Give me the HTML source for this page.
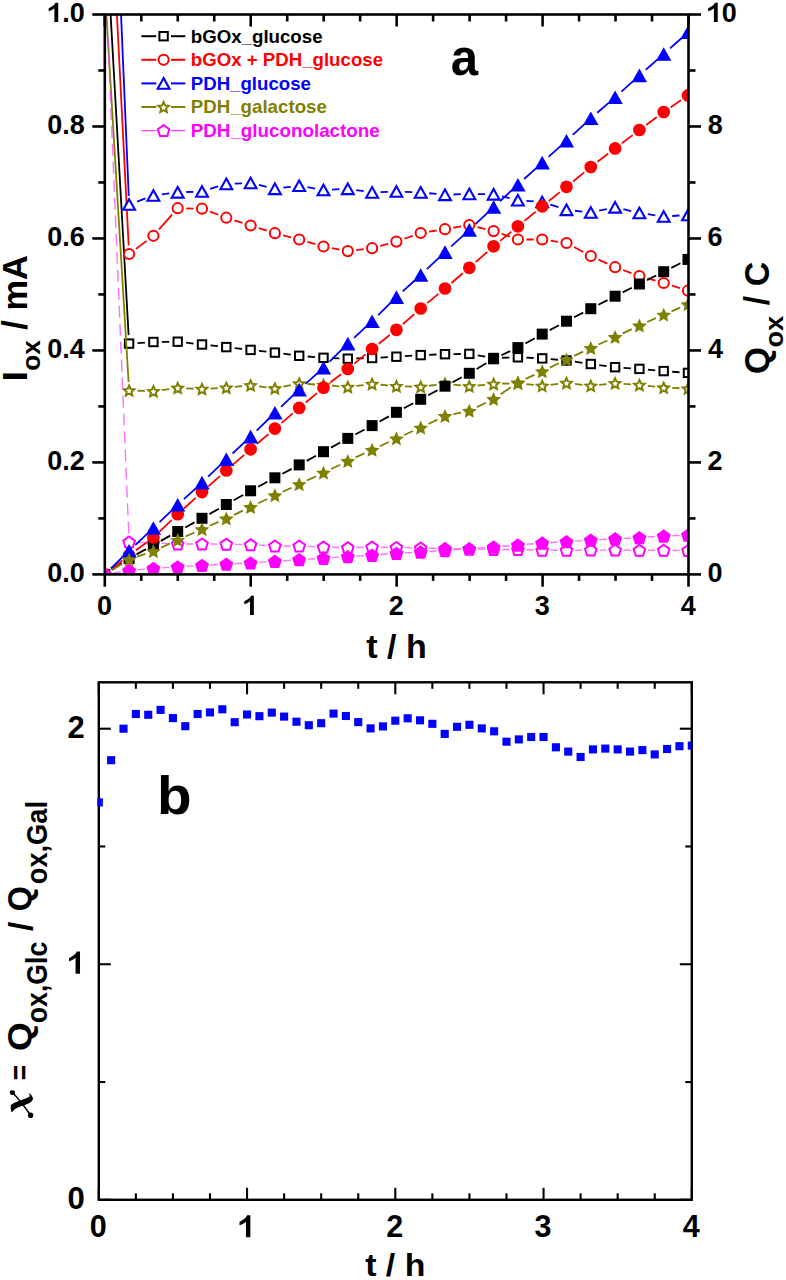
<!DOCTYPE html>
<html><head><meta charset="utf-8"><style>
html,body{margin:0;padding:0;background:#fff;width:786px;height:1280px;overflow:hidden}
svg{display:block}
text{font-family:"Liberation Sans",sans-serif;font-weight:bold}
</style></head><body>
<svg width="786" height="1280" viewBox="0 0 786 1280">
<rect width="786" height="1280" fill="#fff"/>
<defs><clipPath id="ca"><rect x="104.8" y="14.5" width="583.7" height="559.9"/></clipPath><clipPath id="cb"><rect x="97.4" y="682.3" width="594.4" height="517.5"/></clipPath></defs>
<g clip-path="url(#ca)">
<path d="M104.8 -89L128.62 335.11M137.58 343.04L144.92 342.56M161.9 341.9L169.2 341.8M186.14 342.67L193.56 343.53M210.45 345.4L217.85 346.2M234.74 348.07L242.16 348.93M259.05 350.84L266.45 351.66M283.33 353.71L290.77 354.69M307.67 356.5L315.03 357.1M331.99 358.11L339.31 358.39M356.3 358.46L363.6 358.24M380.59 357.55L387.91 357.15M404.88 356.14L412.22 355.66M429.19 354.79L436.51 354.51M453.5 354.1L460.8 354M477.68 355.31L485.22 356.59M502.1 357.76L509.4 357.54M526.39 357.68L533.71 358.02M550.67 359.13L558.03 359.77M574.91 361.71L582.39 362.79M599.23 365.11L606.67 366.09M623.58 367.79L630.92 368.31M647.87 369.67L655.23 370.33M672.18 371.73L679.52 372.27" fill="none" stroke="#000000" stroke-width="1.8"/>
<rect x="124.9" y="339.4" width="8.4" height="8.4" fill="#fff" stroke="#000000" stroke-width="2.0"/>
<rect x="149.2" y="337.8" width="8.4" height="8.4" fill="#fff" stroke="#000000" stroke-width="2.0"/>
<rect x="173.5" y="337.5" width="8.4" height="8.4" fill="#fff" stroke="#000000" stroke-width="2.0"/>
<rect x="197.8" y="340.3" width="8.4" height="8.4" fill="#fff" stroke="#000000" stroke-width="2.0"/>
<rect x="222.1" y="342.9" width="8.4" height="8.4" fill="#fff" stroke="#000000" stroke-width="2.0"/>
<rect x="246.4" y="345.7" width="8.4" height="8.4" fill="#fff" stroke="#000000" stroke-width="2.0"/>
<rect x="270.7" y="348.4" width="8.4" height="8.4" fill="#fff" stroke="#000000" stroke-width="2.0"/>
<rect x="295" y="351.6" width="8.4" height="8.4" fill="#fff" stroke="#000000" stroke-width="2.0"/>
<rect x="319.3" y="353.6" width="8.4" height="8.4" fill="#fff" stroke="#000000" stroke-width="2.0"/>
<rect x="343.6" y="354.5" width="8.4" height="8.4" fill="#fff" stroke="#000000" stroke-width="2.0"/>
<rect x="367.9" y="353.8" width="8.4" height="8.4" fill="#fff" stroke="#000000" stroke-width="2.0"/>
<rect x="392.2" y="352.5" width="8.4" height="8.4" fill="#fff" stroke="#000000" stroke-width="2.0"/>
<rect x="416.5" y="350.9" width="8.4" height="8.4" fill="#fff" stroke="#000000" stroke-width="2.0"/>
<rect x="440.8" y="350" width="8.4" height="8.4" fill="#fff" stroke="#000000" stroke-width="2.0"/>
<rect x="465.1" y="349.7" width="8.4" height="8.4" fill="#fff" stroke="#000000" stroke-width="2.0"/>
<rect x="489.4" y="353.8" width="8.4" height="8.4" fill="#fff" stroke="#000000" stroke-width="2.0"/>
<rect x="513.7" y="353.1" width="8.4" height="8.4" fill="#fff" stroke="#000000" stroke-width="2.0"/>
<rect x="538" y="354.2" width="8.4" height="8.4" fill="#fff" stroke="#000000" stroke-width="2.0"/>
<rect x="562.3" y="356.3" width="8.4" height="8.4" fill="#fff" stroke="#000000" stroke-width="2.0"/>
<rect x="586.6" y="359.8" width="8.4" height="8.4" fill="#fff" stroke="#000000" stroke-width="2.0"/>
<rect x="610.9" y="363" width="8.4" height="8.4" fill="#fff" stroke="#000000" stroke-width="2.0"/>
<rect x="635.2" y="364.7" width="8.4" height="8.4" fill="#fff" stroke="#000000" stroke-width="2.0"/>
<rect x="659.5" y="366.9" width="8.4" height="8.4" fill="#fff" stroke="#000000" stroke-width="2.0"/>
<rect x="683.8" y="368.7" width="8.4" height="8.4" fill="#fff" stroke="#000000" stroke-width="2.0"/>
<path d="M104.8 -224L128.67 245.51M135.9 248.9L146.6 240.9M159.02 229.42L172.08 214.58M186.2 208.37L193.5 208.53M209.97 211.65L218.33 214.75M234.39 220.3L242.51 222.9M258.7 228.07L266.8 230.63M283.13 235.33L290.97 237.37M307.37 241.85L315.33 244.15M331.85 248.08L339.45 249.52M356.24 250.09L363.66 249.21M380.3 245.97L388.2 243.83M404.41 238.76L412.69 235.84M429.1 231.69L436.6 230.51M453.38 227.75L460.92 226.45M477.54 227.07L485.36 229.03M501.63 233.88L509.87 236.72M526.4 239.5L533.7 239.5M550.61 240.71L558.09 241.79M573.99 247.01L583.31 251.99M598.52 259.56L607.38 263.64M623.09 270.09L631.41 273.11M647.57 278.35L655.53 280.65M671.8 285.57L679.9 288.13" fill="none" stroke="#ff0000" stroke-width="1.8"/>
<circle cx="129.1" cy="254" r="5.1" fill="#fff" stroke="#ff0000" stroke-width="2.0"/>
<circle cx="153.4" cy="235.8" r="5.1" fill="#fff" stroke="#ff0000" stroke-width="2.0"/>
<circle cx="177.7" cy="208.2" r="5.1" fill="#fff" stroke="#ff0000" stroke-width="2.0"/>
<circle cx="202" cy="208.7" r="5.1" fill="#fff" stroke="#ff0000" stroke-width="2.0"/>
<circle cx="226.3" cy="217.7" r="5.1" fill="#fff" stroke="#ff0000" stroke-width="2.0"/>
<circle cx="250.6" cy="225.5" r="5.1" fill="#fff" stroke="#ff0000" stroke-width="2.0"/>
<circle cx="274.9" cy="233.2" r="5.1" fill="#fff" stroke="#ff0000" stroke-width="2.0"/>
<circle cx="299.2" cy="239.5" r="5.1" fill="#fff" stroke="#ff0000" stroke-width="2.0"/>
<circle cx="323.5" cy="246.5" r="5.1" fill="#fff" stroke="#ff0000" stroke-width="2.0"/>
<circle cx="347.8" cy="251.1" r="5.1" fill="#fff" stroke="#ff0000" stroke-width="2.0"/>
<circle cx="372.1" cy="248.2" r="5.1" fill="#fff" stroke="#ff0000" stroke-width="2.0"/>
<circle cx="396.4" cy="241.6" r="5.1" fill="#fff" stroke="#ff0000" stroke-width="2.0"/>
<circle cx="420.7" cy="233" r="5.1" fill="#fff" stroke="#ff0000" stroke-width="2.0"/>
<circle cx="445" cy="229.2" r="5.1" fill="#fff" stroke="#ff0000" stroke-width="2.0"/>
<circle cx="469.3" cy="225" r="5.1" fill="#fff" stroke="#ff0000" stroke-width="2.0"/>
<circle cx="493.6" cy="231.1" r="5.1" fill="#fff" stroke="#ff0000" stroke-width="2.0"/>
<circle cx="517.9" cy="239.5" r="5.1" fill="#fff" stroke="#ff0000" stroke-width="2.0"/>
<circle cx="542.2" cy="239.5" r="5.1" fill="#fff" stroke="#ff0000" stroke-width="2.0"/>
<circle cx="566.5" cy="243" r="5.1" fill="#fff" stroke="#ff0000" stroke-width="2.0"/>
<circle cx="590.8" cy="256" r="5.1" fill="#fff" stroke="#ff0000" stroke-width="2.0"/>
<circle cx="615.1" cy="267.2" r="5.1" fill="#fff" stroke="#ff0000" stroke-width="2.0"/>
<circle cx="639.4" cy="276" r="5.1" fill="#fff" stroke="#ff0000" stroke-width="2.0"/>
<circle cx="663.7" cy="283" r="5.1" fill="#fff" stroke="#ff0000" stroke-width="2.0"/>
<circle cx="688" cy="290.7" r="5.1" fill="#fff" stroke="#ff0000" stroke-width="2.0"/>
<path d="M104.8 -368L128.74 196.01M137.07 201.55L145.43 198.45M161.83 194.39L169.27 193.41M186.2 192.02L193.5 191.78M210.11 188.96L218.19 186.44M234.79 183.59L242.11 183.31M258.87 184.97L266.63 186.83M283.33 187.72L290.77 186.78M307.57 187.18L315.13 188.52M331.99 189.58L339.31 189.22M356.21 190.05L363.69 191.15M380.59 192.09L387.91 191.81M404.89 191.81L412.21 192.09M429.16 193.24L436.54 193.96M453.49 194.49L460.81 194.21M477.8 194.04L485.1 194.16M501.86 196.31L509.64 198.19M526.38 200.83L533.72 201.37M550.29 204.6L558.41 207.2M574.95 210.74L582.35 211.56M599.11 210.72L606.79 209.08M623.38 209.24L631.12 211.06M647.81 214.21L655.29 215.29M672.18 215.98L679.52 215.52" fill="none" stroke="#0000ff" stroke-width="1.8"/>
<polygon points="129.1,199.21 135.01,209.79 123.19,209.79" fill="#fff" stroke="#0000ff" stroke-width="2.1" stroke-linejoin="miter"/>
<polygon points="153.4,190.21 159.31,200.79 147.49,200.79" fill="#fff" stroke="#0000ff" stroke-width="2.1" stroke-linejoin="miter"/>
<polygon points="177.7,187.01 183.61,197.59 171.79,197.59" fill="#fff" stroke="#0000ff" stroke-width="2.1" stroke-linejoin="miter"/>
<polygon points="202,186.21 207.91,196.79 196.09,196.79" fill="#fff" stroke="#0000ff" stroke-width="2.1" stroke-linejoin="miter"/>
<polygon points="226.3,178.61 232.21,189.19 220.39,189.19" fill="#fff" stroke="#0000ff" stroke-width="2.1" stroke-linejoin="miter"/>
<polygon points="250.6,177.71 256.51,188.29 244.69,188.29" fill="#fff" stroke="#0000ff" stroke-width="2.1" stroke-linejoin="miter"/>
<polygon points="274.9,183.51 280.81,194.09 268.99,194.09" fill="#fff" stroke="#0000ff" stroke-width="2.1" stroke-linejoin="miter"/>
<polygon points="299.2,180.41 305.11,190.99 293.29,190.99" fill="#fff" stroke="#0000ff" stroke-width="2.1" stroke-linejoin="miter"/>
<polygon points="323.5,184.71 329.41,195.29 317.59,195.29" fill="#fff" stroke="#0000ff" stroke-width="2.1" stroke-linejoin="miter"/>
<polygon points="347.8,183.51 353.71,194.09 341.89,194.09" fill="#fff" stroke="#0000ff" stroke-width="2.1" stroke-linejoin="miter"/>
<polygon points="372.1,187.11 378.01,197.69 366.19,197.69" fill="#fff" stroke="#0000ff" stroke-width="2.1" stroke-linejoin="miter"/>
<polygon points="396.4,186.21 402.31,196.79 390.49,196.79" fill="#fff" stroke="#0000ff" stroke-width="2.1" stroke-linejoin="miter"/>
<polygon points="420.7,187.11 426.61,197.69 414.79,197.69" fill="#fff" stroke="#0000ff" stroke-width="2.1" stroke-linejoin="miter"/>
<polygon points="445,189.51 450.91,200.09 439.09,200.09" fill="#fff" stroke="#0000ff" stroke-width="2.1" stroke-linejoin="miter"/>
<polygon points="469.3,188.61 475.21,199.19 463.39,199.19" fill="#fff" stroke="#0000ff" stroke-width="2.1" stroke-linejoin="miter"/>
<polygon points="493.6,189.01 499.51,199.59 487.69,199.59" fill="#fff" stroke="#0000ff" stroke-width="2.1" stroke-linejoin="miter"/>
<polygon points="517.9,194.91 523.81,205.49 511.99,205.49" fill="#fff" stroke="#0000ff" stroke-width="2.1" stroke-linejoin="miter"/>
<polygon points="542.2,196.71 548.11,207.29 536.29,207.29" fill="#fff" stroke="#0000ff" stroke-width="2.1" stroke-linejoin="miter"/>
<polygon points="566.5,204.51 572.41,215.09 560.59,215.09" fill="#fff" stroke="#0000ff" stroke-width="2.1" stroke-linejoin="miter"/>
<polygon points="590.8,207.21 596.71,217.79 584.89,217.79" fill="#fff" stroke="#0000ff" stroke-width="2.1" stroke-linejoin="miter"/>
<polygon points="615.1,202.01 621.01,212.59 609.19,212.59" fill="#fff" stroke="#0000ff" stroke-width="2.1" stroke-linejoin="miter"/>
<polygon points="639.4,207.71 645.31,218.29 633.49,218.29" fill="#fff" stroke="#0000ff" stroke-width="2.1" stroke-linejoin="miter"/>
<polygon points="663.7,211.21 669.61,221.79 657.79,221.79" fill="#fff" stroke="#0000ff" stroke-width="2.1" stroke-linejoin="miter"/>
<polygon points="688,209.71 693.91,220.29 682.09,220.29" fill="#fff" stroke="#0000ff" stroke-width="2.1" stroke-linejoin="miter"/>
<path d="M104.8 -11.7L128.59 382.02M137.6 390.74L144.9 390.96M161.82 390.06L169.28 389.04M186.19 388.28L193.51 388.62M210.49 388.55L217.81 388.15M234.76 386.86L242.14 386.14M259.03 386.38L266.47 387.32M283.23 386.72L290.87 385.18M307.68 384.02L315.02 384.48M331.97 385.7L339.33 386.3M356.24 385.96L363.66 385.04M380.57 384.77L387.93 385.43M404.9 386.41L412.2 386.59M429.14 385.76L436.56 384.84M453.46 384.67L460.84 385.43M477.76 385.5L485.14 384.8M502.1 383.72L509.4 383.48M526.35 384.1L533.75 384.9M550.64 384.83L558.06 383.97M574.94 383.97L582.36 384.83M599.25 384.9L606.65 384.1M623.58 383.83L630.92 384.37M647.85 385.9L655.25 386.7M672.19 387.95L679.51 388.25" fill="none" stroke="#808000" stroke-width="1.8"/>
<polygon points="129.1,385.53 130.62,388.93 134.33,389.33 131.56,391.82 132.33,395.47 129.1,393.61 125.87,395.47 126.64,391.82 123.87,389.33 127.58,388.93" fill="#fff" stroke="#808000" stroke-width="2.0" stroke-linejoin="miter"/>
<polygon points="153.4,386.23 154.92,389.63 158.63,390.03 155.86,392.52 156.63,396.17 153.4,394.31 150.17,396.17 150.94,392.52 148.17,390.03 151.88,389.63" fill="#fff" stroke="#808000" stroke-width="2.0" stroke-linejoin="miter"/>
<polygon points="177.7,382.93 179.22,386.33 182.93,386.73 180.16,389.22 180.93,392.87 177.7,391.01 174.47,392.87 175.24,389.22 172.47,386.73 176.18,386.33" fill="#fff" stroke="#808000" stroke-width="2.0" stroke-linejoin="miter"/>
<polygon points="202,384.03 203.52,387.43 207.23,387.83 204.46,390.32 205.23,393.97 202,392.11 198.77,393.97 199.54,390.32 196.77,387.83 200.48,387.43" fill="#fff" stroke="#808000" stroke-width="2.0" stroke-linejoin="miter"/>
<polygon points="226.3,382.73 227.82,386.13 231.53,386.53 228.76,389.02 229.53,392.67 226.3,390.81 223.07,392.67 223.84,389.02 221.07,386.53 224.78,386.13" fill="#fff" stroke="#808000" stroke-width="2.0" stroke-linejoin="miter"/>
<polygon points="250.6,380.33 252.12,383.73 255.83,384.13 253.06,386.62 253.83,390.27 250.6,388.41 247.37,390.27 248.14,386.62 245.37,384.13 249.08,383.73" fill="#fff" stroke="#808000" stroke-width="2.0" stroke-linejoin="miter"/>
<polygon points="274.9,383.43 276.42,386.83 280.13,387.23 277.36,389.72 278.13,393.37 274.9,391.51 271.67,393.37 272.44,389.72 269.67,387.23 273.38,386.83" fill="#fff" stroke="#808000" stroke-width="2.0" stroke-linejoin="miter"/>
<polygon points="299.2,378.53 300.72,381.93 304.43,382.33 301.66,384.82 302.43,388.47 299.2,386.61 295.97,388.47 296.74,384.82 293.97,382.33 297.68,381.93" fill="#fff" stroke="#808000" stroke-width="2.0" stroke-linejoin="miter"/>
<polygon points="323.5,380.03 325.02,383.43 328.73,383.83 325.96,386.32 326.73,389.97 323.5,388.11 320.27,389.97 321.04,386.32 318.27,383.83 321.98,383.43" fill="#fff" stroke="#808000" stroke-width="2.0" stroke-linejoin="miter"/>
<polygon points="347.8,382.03 349.32,385.43 353.03,385.83 350.26,388.32 351.03,391.97 347.8,390.11 344.57,391.97 345.34,388.32 342.57,385.83 346.28,385.43" fill="#fff" stroke="#808000" stroke-width="2.0" stroke-linejoin="miter"/>
<polygon points="372.1,379.03 373.62,382.43 377.33,382.83 374.56,385.32 375.33,388.97 372.1,387.11 368.87,388.97 369.64,385.32 366.87,382.83 370.58,382.43" fill="#fff" stroke="#808000" stroke-width="2.0" stroke-linejoin="miter"/>
<polygon points="396.4,381.23 397.92,384.63 401.63,385.03 398.86,387.52 399.63,391.17 396.4,389.31 393.17,391.17 393.94,387.52 391.17,385.03 394.88,384.63" fill="#fff" stroke="#808000" stroke-width="2.0" stroke-linejoin="miter"/>
<polygon points="420.7,381.83 422.22,385.23 425.93,385.63 423.16,388.12 423.93,391.77 420.7,389.91 417.47,391.77 418.24,388.12 415.47,385.63 419.18,385.23" fill="#fff" stroke="#808000" stroke-width="2.0" stroke-linejoin="miter"/>
<polygon points="445,378.83 446.52,382.23 450.23,382.63 447.46,385.12 448.23,388.77 445,386.91 441.77,388.77 442.54,385.12 439.77,382.63 443.48,382.23" fill="#fff" stroke="#808000" stroke-width="2.0" stroke-linejoin="miter"/>
<polygon points="469.3,381.33 470.82,384.73 474.53,385.13 471.76,387.62 472.53,391.27 469.3,389.41 466.07,391.27 466.84,387.62 464.07,385.13 467.78,384.73" fill="#fff" stroke="#808000" stroke-width="2.0" stroke-linejoin="miter"/>
<polygon points="493.6,379.03 495.12,382.43 498.83,382.83 496.06,385.32 496.83,388.97 493.6,387.11 490.37,388.97 491.14,385.32 488.37,382.83 492.08,382.43" fill="#fff" stroke="#808000" stroke-width="2.0" stroke-linejoin="miter"/>
<polygon points="517.9,378.23 519.42,381.63 523.13,382.03 520.36,384.52 521.13,388.17 517.9,386.31 514.67,388.17 515.44,384.52 512.67,382.03 516.38,381.63" fill="#fff" stroke="#808000" stroke-width="2.0" stroke-linejoin="miter"/>
<polygon points="542.2,380.83 543.72,384.23 547.43,384.63 544.66,387.12 545.43,390.77 542.2,388.91 538.97,390.77 539.74,387.12 536.97,384.63 540.68,384.23" fill="#fff" stroke="#808000" stroke-width="2.0" stroke-linejoin="miter"/>
<polygon points="566.5,378.03 568.02,381.43 571.73,381.83 568.96,384.32 569.73,387.97 566.5,386.11 563.27,387.97 564.04,384.32 561.27,381.83 564.98,381.43" fill="#fff" stroke="#808000" stroke-width="2.0" stroke-linejoin="miter"/>
<polygon points="590.8,380.83 592.32,384.23 596.03,384.63 593.26,387.12 594.03,390.77 590.8,388.91 587.57,390.77 588.34,387.12 585.57,384.63 589.28,384.23" fill="#fff" stroke="#808000" stroke-width="2.0" stroke-linejoin="miter"/>
<polygon points="615.1,378.23 616.62,381.63 620.33,382.03 617.56,384.52 618.33,388.17 615.1,386.31 611.87,388.17 612.64,384.52 609.87,382.03 613.58,381.63" fill="#fff" stroke="#808000" stroke-width="2.0" stroke-linejoin="miter"/>
<polygon points="639.4,380.03 640.92,383.43 644.63,383.83 641.86,386.32 642.63,389.97 639.4,388.11 636.17,389.97 636.94,386.32 634.17,383.83 637.88,383.43" fill="#fff" stroke="#808000" stroke-width="2.0" stroke-linejoin="miter"/>
<polygon points="663.7,382.63 665.22,386.03 668.93,386.43 666.16,388.92 666.93,392.57 663.7,390.71 660.47,392.57 661.24,388.92 658.47,386.43 662.18,386.03" fill="#fff" stroke="#808000" stroke-width="2.0" stroke-linejoin="miter"/>
<polygon points="688,383.63 689.52,387.03 693.23,387.43 690.46,389.92 691.23,393.57 688,391.71 684.77,393.57 685.54,389.92 682.77,387.43 686.48,387.03" fill="#fff" stroke="#808000" stroke-width="2.0" stroke-linejoin="miter"/>
<path d="M104.8 -36L128.74 533.51M137.59 542.35L144.91 542.65M161.89 543.35L169.21 543.65M186.2 544L193.5 544M210.5 544.07L217.8 544.13M234.8 544.37L242.1 544.53M259.09 545.15L266.41 545.55M283.4 546L290.7 546M307.69 546.35L315.01 546.65M332 547.24L339.3 547.46M356.3 547.46L363.6 547.24M380.6 547.17L387.9 547.33M404.9 547.67L412.2 547.83M429.2 548.21L436.5 548.39M453.5 548.74L460.8 548.86M477.8 549.14L485.1 549.26M502.1 549.47L509.4 549.53M526.4 549.81L533.7 549.99M550.7 550.23L558 550.27M575 550.23L582.3 550.17M599.3 550.1L606.6 550.1M623.6 550.17L630.9 550.23M647.9 550.3L655.2 550.3M672.2 550.37L679.5 550.43" fill="none" stroke="#ff40ff" stroke-width="1.4" stroke-dasharray="12 6" stroke-opacity="0.75"/>
<polygon points="129.1,536.48 134.9,540.7 132.69,547.52 125.51,547.52 123.3,540.7" fill="#fff" stroke="#ff00ff" stroke-width="2.0" stroke-linejoin="miter"/>
<polygon points="153.4,537.48 159.2,541.7 156.99,548.52 149.81,548.52 147.6,541.7" fill="#fff" stroke="#ff00ff" stroke-width="2.0" stroke-linejoin="miter"/>
<polygon points="177.7,538.48 183.5,542.7 181.29,549.52 174.11,549.52 171.9,542.7" fill="#fff" stroke="#ff00ff" stroke-width="2.0" stroke-linejoin="miter"/>
<polygon points="202,538.48 207.8,542.7 205.59,549.52 198.41,549.52 196.2,542.7" fill="#fff" stroke="#ff00ff" stroke-width="2.0" stroke-linejoin="miter"/>
<polygon points="226.3,538.68 232.1,542.9 229.89,549.72 222.71,549.72 220.5,542.9" fill="#fff" stroke="#ff00ff" stroke-width="2.0" stroke-linejoin="miter"/>
<polygon points="250.6,539.18 256.4,543.4 254.19,550.22 247.01,550.22 244.8,543.4" fill="#fff" stroke="#ff00ff" stroke-width="2.0" stroke-linejoin="miter"/>
<polygon points="274.9,540.48 280.7,544.7 278.49,551.52 271.31,551.52 269.1,544.7" fill="#fff" stroke="#ff00ff" stroke-width="2.0" stroke-linejoin="miter"/>
<polygon points="299.2,540.48 305,544.7 302.79,551.52 295.61,551.52 293.4,544.7" fill="#fff" stroke="#ff00ff" stroke-width="2.0" stroke-linejoin="miter"/>
<polygon points="323.5,541.48 329.3,545.7 327.09,552.52 319.91,552.52 317.7,545.7" fill="#fff" stroke="#ff00ff" stroke-width="2.0" stroke-linejoin="miter"/>
<polygon points="347.8,542.18 353.6,546.4 351.39,553.22 344.21,553.22 342,546.4" fill="#fff" stroke="#ff00ff" stroke-width="2.0" stroke-linejoin="miter"/>
<polygon points="372.1,541.48 377.9,545.7 375.69,552.52 368.51,552.52 366.3,545.7" fill="#fff" stroke="#ff00ff" stroke-width="2.0" stroke-linejoin="miter"/>
<polygon points="396.4,541.98 402.2,546.2 399.99,553.02 392.81,553.02 390.6,546.2" fill="#fff" stroke="#ff00ff" stroke-width="2.0" stroke-linejoin="miter"/>
<polygon points="420.7,542.48 426.5,546.7 424.29,553.52 417.11,553.52 414.9,546.7" fill="#fff" stroke="#ff00ff" stroke-width="2.0" stroke-linejoin="miter"/>
<polygon points="445,543.08 450.8,547.3 448.59,554.12 441.41,554.12 439.2,547.3" fill="#fff" stroke="#ff00ff" stroke-width="2.0" stroke-linejoin="miter"/>
<polygon points="469.3,543.48 475.1,547.7 472.89,554.52 465.71,554.52 463.5,547.7" fill="#fff" stroke="#ff00ff" stroke-width="2.0" stroke-linejoin="miter"/>
<polygon points="493.6,543.88 499.4,548.1 497.19,554.92 490.01,554.92 487.8,548.1" fill="#fff" stroke="#ff00ff" stroke-width="2.0" stroke-linejoin="miter"/>
<polygon points="517.9,544.08 523.7,548.3 521.49,555.12 514.31,555.12 512.1,548.3" fill="#fff" stroke="#ff00ff" stroke-width="2.0" stroke-linejoin="miter"/>
<polygon points="542.2,544.68 548,548.9 545.79,555.72 538.61,555.72 536.4,548.9" fill="#fff" stroke="#ff00ff" stroke-width="2.0" stroke-linejoin="miter"/>
<polygon points="566.5,544.78 572.3,549 570.09,555.82 562.91,555.82 560.7,549" fill="#fff" stroke="#ff00ff" stroke-width="2.0" stroke-linejoin="miter"/>
<polygon points="590.8,544.58 596.6,548.8 594.39,555.62 587.21,555.62 585,548.8" fill="#fff" stroke="#ff00ff" stroke-width="2.0" stroke-linejoin="miter"/>
<polygon points="615.1,544.58 620.9,548.8 618.69,555.62 611.51,555.62 609.3,548.8" fill="#fff" stroke="#ff00ff" stroke-width="2.0" stroke-linejoin="miter"/>
<polygon points="639.4,544.78 645.2,549 642.99,555.82 635.81,555.82 633.6,549" fill="#fff" stroke="#ff00ff" stroke-width="2.0" stroke-linejoin="miter"/>
<polygon points="663.7,544.78 669.5,549 667.29,555.82 660.11,555.82 657.9,549" fill="#fff" stroke="#ff00ff" stroke-width="2.0" stroke-linejoin="miter"/>
<polygon points="688,544.98 693.8,549.2 691.59,556.02 684.41,556.02 682.2,549.2" fill="#fff" stroke="#ff00ff" stroke-width="2.0" stroke-linejoin="miter"/>
<path d="M111.91 569.75L121.99 563.15M136.53 554.37L145.97 549.13M160.83 540.87L170.27 535.63M185.17 527.44L194.53 522.36M209.39 514.1L218.91 508.7M233.7 500.33L243.2 494.97M258.09 486.79L267.41 481.81M282.41 473.81L291.69 468.89M306.67 460.84L316.03 455.76M330.96 447.62L340.34 442.48M355.32 434.44L364.58 429.56M379.56 421.52L388.94 416.38M403.89 408.29L413.21 403.31M428.18 395.27L437.52 390.23M452.51 382.21L461.79 377.29M476.6 368.94L486.3 363.16M501.32 355.24L510.18 351.16M525.33 343.47L534.77 338.23M549.71 330.11L558.99 325.19M574.06 317.31L583.24 312.59M598.36 304.81L607.54 300.09M622.7 292.39L631.8 287.81M646.98 280.16L656.12 275.54M671.28 267.86L680.42 263.24" fill="none" stroke="#000000" stroke-width="1.8"/>
<rect x="99.3" y="568.9" width="11" height="11" fill="#000000"/>
<rect x="123.6" y="553" width="11" height="11" fill="#000000"/>
<rect x="147.9" y="539.5" width="11" height="11" fill="#000000"/>
<rect x="172.2" y="526" width="11" height="11" fill="#000000"/>
<rect x="196.5" y="512.8" width="11" height="11" fill="#000000"/>
<rect x="220.8" y="499" width="11" height="11" fill="#000000"/>
<rect x="245.1" y="485.3" width="11" height="11" fill="#000000"/>
<rect x="269.4" y="472.3" width="11" height="11" fill="#000000"/>
<rect x="293.7" y="459.4" width="11" height="11" fill="#000000"/>
<rect x="318" y="446.2" width="11" height="11" fill="#000000"/>
<rect x="342.3" y="432.9" width="11" height="11" fill="#000000"/>
<rect x="366.6" y="420.1" width="11" height="11" fill="#000000"/>
<rect x="390.9" y="406.8" width="11" height="11" fill="#000000"/>
<rect x="415.2" y="393.8" width="11" height="11" fill="#000000"/>
<rect x="439.5" y="380.7" width="11" height="11" fill="#000000"/>
<rect x="463.8" y="367.8" width="11" height="11" fill="#000000"/>
<rect x="488.1" y="353.3" width="11" height="11" fill="#000000"/>
<rect x="512.4" y="342.1" width="11" height="11" fill="#000000"/>
<rect x="536.7" y="328.6" width="11" height="11" fill="#000000"/>
<rect x="561" y="315.7" width="11" height="11" fill="#000000"/>
<rect x="585.3" y="303.2" width="11" height="11" fill="#000000"/>
<rect x="609.6" y="290.7" width="11" height="11" fill="#000000"/>
<rect x="633.9" y="278.5" width="11" height="11" fill="#000000"/>
<rect x="658.2" y="266.2" width="11" height="11" fill="#000000"/>
<rect x="682.5" y="253.9" width="11" height="11" fill="#000000"/>
<path d="M111.48 569.15L122.42 560.55M135.94 550.26L146.56 542.44M159.55 531.53L171.55 520.07M183.99 508.48L195.71 497.82M208.35 486.45L219.95 476.15M232.71 464.91L244.19 454.89M257.07 443.79L268.43 434.11M281.37 423.09L292.73 413.41M305.74 402.47L316.96 393.13M330.24 382.52L341.06 374.18M354.36 363.6L365.54 354.4M378.77 343.73L389.73 335.07M402.79 324.2L414.31 314.1M427.26 303.1L438.44 293.9M451.47 282.99L462.83 273.31M475.67 262.17L487.23 251.93M500.16 240.9L511.34 231.7M524.46 220.9L535.64 211.7M548.83 200.98L559.87 192.12M573.09 181.43L584.21 172.37M597.55 161.83L608.35 153.57M621.88 143.27L632.62 135.13M646.23 124.94L656.87 117.06M670.72 107.21L680.98 100.19" fill="none" stroke="#ff0000" stroke-width="1.8"/>
<circle cx="104.8" cy="574.4" r="6.35" fill="#ff0000"/>
<circle cx="129.1" cy="555.3" r="6.35" fill="#ff0000"/>
<circle cx="153.4" cy="537.4" r="6.35" fill="#ff0000"/>
<circle cx="177.7" cy="514.2" r="6.35" fill="#ff0000"/>
<circle cx="202" cy="492.1" r="6.35" fill="#ff0000"/>
<circle cx="226.3" cy="470.5" r="6.35" fill="#ff0000"/>
<circle cx="250.6" cy="449.3" r="6.35" fill="#ff0000"/>
<circle cx="274.9" cy="428.6" r="6.35" fill="#ff0000"/>
<circle cx="299.2" cy="407.9" r="6.35" fill="#ff0000"/>
<circle cx="323.5" cy="387.7" r="6.35" fill="#ff0000"/>
<circle cx="347.8" cy="369" r="6.35" fill="#ff0000"/>
<circle cx="372.1" cy="349" r="6.35" fill="#ff0000"/>
<circle cx="396.4" cy="329.8" r="6.35" fill="#ff0000"/>
<circle cx="420.7" cy="308.5" r="6.35" fill="#ff0000"/>
<circle cx="445" cy="288.5" r="6.35" fill="#ff0000"/>
<circle cx="469.3" cy="267.8" r="6.35" fill="#ff0000"/>
<circle cx="493.6" cy="246.3" r="6.35" fill="#ff0000"/>
<circle cx="517.9" cy="226.3" r="6.35" fill="#ff0000"/>
<circle cx="542.2" cy="206.3" r="6.35" fill="#ff0000"/>
<circle cx="566.5" cy="186.8" r="6.35" fill="#ff0000"/>
<circle cx="590.8" cy="167" r="6.35" fill="#ff0000"/>
<circle cx="615.1" cy="148.4" r="6.35" fill="#ff0000"/>
<circle cx="639.4" cy="130" r="6.35" fill="#ff0000"/>
<circle cx="663.7" cy="112" r="6.35" fill="#ff0000"/>
<circle cx="688" cy="95.4" r="6.35" fill="#ff0000"/>
<path d="M110.9 568.48L123 556.72M135.3 544.98L147.2 533.82M159.55 522.13L171.55 510.67M183.98 499.07L195.72 488.33M208.14 476.72L220.16 465.18M232.51 453.5L244.39 442.4M256.67 430.65L268.83 418.75M281.05 406.93L293.05 395.47M305.51 383.91L317.19 373.39M329.54 361.71L341.76 349.59M354.05 337.84L365.85 326.96M378.14 315.21L390.36 303.09M402.69 291.38L414.41 280.72M426.89 269.17L438.81 257.93M451.28 246.37L463.02 235.63M475.49 224.07L487.41 212.83M499.86 201.25L511.64 190.45M524.19 178.98L535.91 168.32M548.51 156.91L560.19 146.39M572.75 134.94L584.55 124.06M597.23 112.74L608.67 102.86M621.41 91.61L633.09 81.09M645.78 69.78L657.32 59.62M670.04 48.34L681.66 37.96" fill="none" stroke="#0000ff" stroke-width="1.8"/>
<polygon points="104.8,567.62 112.5,581.18 97.1,581.18" fill="#0000ff"/>
<polygon points="129.1,544.02 136.8,557.58 121.4,557.58" fill="#0000ff"/>
<polygon points="153.4,521.22 161.1,534.78 145.7,534.78" fill="#0000ff"/>
<polygon points="177.7,498.02 185.4,511.58 170,511.58" fill="#0000ff"/>
<polygon points="202,475.82 209.7,489.38 194.3,489.38" fill="#0000ff"/>
<polygon points="226.3,452.52 234,466.08 218.6,466.08" fill="#0000ff"/>
<polygon points="250.6,429.82 258.3,443.38 242.9,443.38" fill="#0000ff"/>
<polygon points="274.9,406.02 282.6,419.58 267.2,419.58" fill="#0000ff"/>
<polygon points="299.2,382.82 306.9,396.38 291.5,396.38" fill="#0000ff"/>
<polygon points="323.5,360.92 331.2,374.48 315.8,374.48" fill="#0000ff"/>
<polygon points="347.8,336.82 355.5,350.38 340.1,350.38" fill="#0000ff"/>
<polygon points="372.1,314.42 379.8,327.98 364.4,327.98" fill="#0000ff"/>
<polygon points="396.4,290.32 404.1,303.88 388.7,303.88" fill="#0000ff"/>
<polygon points="420.7,268.22 428.4,281.78 413,281.78" fill="#0000ff"/>
<polygon points="445,245.32 452.7,258.88 437.3,258.88" fill="#0000ff"/>
<polygon points="469.3,223.12 477,236.68 461.6,236.68" fill="#0000ff"/>
<polygon points="493.6,200.22 501.3,213.78 485.9,213.78" fill="#0000ff"/>
<polygon points="517.9,177.92 525.6,191.48 510.2,191.48" fill="#0000ff"/>
<polygon points="542.2,155.82 549.9,169.38 534.5,169.38" fill="#0000ff"/>
<polygon points="566.5,133.92 574.2,147.48 558.8,147.48" fill="#0000ff"/>
<polygon points="590.8,111.52 598.5,125.08 583.1,125.08" fill="#0000ff"/>
<polygon points="615.1,90.52 622.8,104.08 607.4,104.08" fill="#0000ff"/>
<polygon points="639.4,68.62 647.1,82.18 631.7,82.18" fill="#0000ff"/>
<polygon points="663.7,47.22 671.4,60.78 656,60.78" fill="#0000ff"/>
<polygon points="688,25.52 695.7,39.08 680.3,39.08" fill="#0000ff"/>
<path d="M112.05 569.96L121.85 563.94M137.13 556.72L145.37 553.88M161.13 547.57L169.97 543.53M185.47 536.55L194.23 532.65M209.78 525.77L218.52 521.93M233.98 514.86L242.92 510.64M258.26 503.31L267.24 498.99M282.63 491.77L291.47 487.73M306.88 480.56L315.82 476.34M331.16 469.01L340.14 464.69M355.52 457.44L364.38 453.36M379.8 446.19L388.7 442.01M404.17 434.95L412.93 431.05M428.37 423.94L437.33 419.66M453.31 414.22L460.99 412.58M476.95 407.09L485.95 402.71M500.63 394.23L510.87 387.27M525.62 378.94L534.48 374.86M549.85 367.59L558.85 363.21M574.18 355.86L583.12 351.64M598.54 344.49L607.36 340.51M622.78 333.36L631.72 329.14M647.17 322.05L655.93 318.15M671.51 311.36L680.19 307.64" fill="none" stroke="#808000" stroke-width="1.8"/>
<polygon points="104.8,567.34 106.95,572.18 112.22,572.73 108.29,576.28 109.38,581.46 104.8,578.81 100.22,581.46 101.31,576.28 97.38,572.73 102.65,572.18" fill="#808000"/>
<polygon points="129.1,552.44 131.25,557.28 136.52,557.83 132.59,561.38 133.68,566.56 129.1,563.91 124.52,566.56 125.61,561.38 121.68,557.83 126.95,557.28" fill="#808000"/>
<polygon points="153.4,544.04 155.55,548.88 160.82,549.43 156.89,552.98 157.98,558.16 153.4,555.51 148.82,558.16 149.91,552.98 145.98,549.43 151.25,548.88" fill="#808000"/>
<polygon points="177.7,532.94 179.85,537.78 185.12,538.33 181.19,541.88 182.28,547.06 177.7,544.41 173.12,547.06 174.21,541.88 170.28,538.33 175.55,537.78" fill="#808000"/>
<polygon points="202,522.14 204.15,526.98 209.42,527.53 205.49,531.08 206.58,536.26 202,533.61 197.42,536.26 198.51,531.08 194.58,527.53 199.85,526.98" fill="#808000"/>
<polygon points="226.3,511.44 228.45,516.28 233.72,516.83 229.79,520.38 230.88,525.56 226.3,522.91 221.72,525.56 222.81,520.38 218.88,516.83 224.15,516.28" fill="#808000"/>
<polygon points="250.6,499.94 252.75,504.78 258.02,505.33 254.09,508.88 255.18,514.06 250.6,511.41 246.02,514.06 247.11,508.88 243.18,505.33 248.45,504.78" fill="#808000"/>
<polygon points="274.9,488.24 277.05,493.08 282.32,493.63 278.39,497.18 279.48,502.36 274.9,499.71 270.32,502.36 271.41,497.18 267.48,493.63 272.75,493.08" fill="#808000"/>
<polygon points="299.2,477.14 301.35,481.98 306.62,482.53 302.69,486.08 303.78,491.26 299.2,488.61 294.62,491.26 295.71,486.08 291.78,482.53 297.05,481.98" fill="#808000"/>
<polygon points="323.5,465.64 325.65,470.48 330.92,471.03 326.99,474.58 328.08,479.76 323.5,477.11 318.92,479.76 320.01,474.58 316.08,471.03 321.35,470.48" fill="#808000"/>
<polygon points="347.8,453.94 349.95,458.78 355.22,459.33 351.29,462.88 352.38,468.06 347.8,465.41 343.22,468.06 344.31,462.88 340.38,459.33 345.65,458.78" fill="#808000"/>
<polygon points="372.1,442.74 374.25,447.58 379.52,448.13 375.59,451.68 376.68,456.86 372.1,454.21 367.52,456.86 368.61,451.68 364.68,448.13 369.95,447.58" fill="#808000"/>
<polygon points="396.4,431.34 398.55,436.18 403.82,436.73 399.89,440.28 400.98,445.46 396.4,442.81 391.82,445.46 392.91,440.28 388.98,436.73 394.25,436.18" fill="#808000"/>
<polygon points="420.7,420.54 422.85,425.38 428.12,425.93 424.19,429.48 425.28,434.66 420.7,432.01 416.12,434.66 417.21,429.48 413.28,425.93 418.55,425.38" fill="#808000"/>
<polygon points="445,408.94 447.15,413.78 452.42,414.33 448.49,417.88 449.58,423.06 445,420.41 440.42,423.06 441.51,417.88 437.58,414.33 442.85,413.78" fill="#808000"/>
<polygon points="469.3,403.74 471.45,408.58 476.72,409.13 472.79,412.68 473.88,417.86 469.3,415.21 464.72,417.86 465.81,412.68 461.88,409.13 467.15,408.58" fill="#808000"/>
<polygon points="493.6,391.94 495.75,396.78 501.02,397.33 497.09,400.88 498.18,406.06 493.6,403.41 489.02,406.06 490.11,400.88 486.18,397.33 491.45,396.78" fill="#808000"/>
<polygon points="517.9,375.44 520.05,380.28 525.32,380.83 521.39,384.38 522.48,389.56 517.9,386.91 513.32,389.56 514.41,384.38 510.48,380.83 515.75,380.28" fill="#808000"/>
<polygon points="542.2,364.24 544.35,369.08 549.62,369.63 545.69,373.18 546.78,378.36 542.2,375.71 537.62,378.36 538.71,373.18 534.78,369.63 540.05,369.08" fill="#808000"/>
<polygon points="566.5,352.44 568.65,357.28 573.92,357.83 569.99,361.38 571.08,366.56 566.5,363.91 561.92,366.56 563.01,361.38 559.08,357.83 564.35,357.28" fill="#808000"/>
<polygon points="590.8,340.94 592.95,345.78 598.22,346.33 594.29,349.88 595.38,355.06 590.8,352.41 586.22,355.06 587.31,349.88 583.38,346.33 588.65,345.78" fill="#808000"/>
<polygon points="615.1,329.94 617.25,334.78 622.52,335.33 618.59,338.88 619.68,344.06 615.1,341.41 610.52,344.06 611.61,338.88 607.68,335.33 612.95,334.78" fill="#808000"/>
<polygon points="639.4,318.44 641.55,323.28 646.82,323.83 642.89,327.38 643.98,332.56 639.4,329.91 634.82,332.56 635.91,327.38 631.98,323.83 637.25,323.28" fill="#808000"/>
<polygon points="663.7,307.64 665.85,312.48 671.12,313.03 667.19,316.58 668.28,321.76 663.7,319.11 659.12,321.76 660.21,316.58 656.28,313.03 661.55,312.48" fill="#808000"/>
<polygon points="688,297.24 690.15,302.08 695.42,302.63 691.49,306.18 692.58,311.36 688,308.71 683.42,311.36 684.51,306.18 680.58,302.63 685.85,302.08" fill="#808000"/>
<path d="M113.19 573.05L120.71 571.85M137.57 569.77L144.93 569.13M161.88 567.88L169.22 567.42M186.18 566.38L193.52 565.92M210.49 564.95L217.81 564.55M234.79 563.68L242.11 563.32M259.08 562.34L266.42 561.86M283.38 560.71L290.72 560.19M307.69 559.11L315.01 558.69M331.98 557.64L339.32 557.16M356.29 556.11L363.61 555.69M380.58 554.57L387.92 554.03M404.89 552.91L412.21 552.49M429.18 551.48L436.52 551.02M453.48 549.91L460.82 549.39M477.78 548.17L485.12 547.63M502.07 546.3L509.43 545.7M526.37 544.3L533.73 543.7M550.69 542.51L558.01 542.09M574.98 541.08L582.32 540.62M599.29 539.65L606.61 539.25M623.59 538.38L630.91 538.02M647.88 537.04L655.22 536.56M672.19 535.69L679.51 535.41" fill="none" stroke="#ff40ff" stroke-width="1.4" stroke-dasharray="12 6" stroke-opacity="0.75"/>
<polygon points="104.8,567.71 111.84,572.82 109.15,581.09 100.45,581.09 97.76,572.82" fill="#ff00ff"/>
<polygon points="129.1,563.81 136.14,568.92 133.45,577.19 124.75,577.19 122.06,568.92" fill="#ff00ff"/>
<polygon points="153.4,561.71 160.44,566.82 157.75,575.09 149.05,575.09 146.36,566.82" fill="#ff00ff"/>
<polygon points="177.7,560.21 184.74,565.32 182.05,573.59 173.35,573.59 170.66,565.32" fill="#ff00ff"/>
<polygon points="202,558.71 209.04,563.82 206.35,572.09 197.65,572.09 194.96,563.82" fill="#ff00ff"/>
<polygon points="226.3,557.41 233.34,562.52 230.65,570.79 221.95,570.79 219.26,562.52" fill="#ff00ff"/>
<polygon points="250.6,556.21 257.64,561.32 254.95,569.59 246.25,569.59 243.56,561.32" fill="#ff00ff"/>
<polygon points="274.9,554.61 281.94,559.72 279.25,567.99 270.55,567.99 267.86,559.72" fill="#ff00ff"/>
<polygon points="299.2,552.91 306.24,558.02 303.55,566.29 294.85,566.29 292.16,558.02" fill="#ff00ff"/>
<polygon points="323.5,551.51 330.54,556.62 327.85,564.89 319.15,564.89 316.46,556.62" fill="#ff00ff"/>
<polygon points="347.8,549.91 354.84,555.02 352.15,563.29 343.45,563.29 340.76,555.02" fill="#ff00ff"/>
<polygon points="372.1,548.51 379.14,553.62 376.45,561.89 367.75,561.89 365.06,553.62" fill="#ff00ff"/>
<polygon points="396.4,546.71 403.44,551.82 400.75,560.09 392.05,560.09 389.36,551.82" fill="#ff00ff"/>
<polygon points="420.7,545.31 427.74,550.42 425.05,558.69 416.35,558.69 413.66,550.42" fill="#ff00ff"/>
<polygon points="445,543.81 452.04,548.92 449.35,557.19 440.65,557.19 437.96,548.92" fill="#ff00ff"/>
<polygon points="469.3,542.11 476.34,547.22 473.65,555.49 464.95,555.49 462.26,547.22" fill="#ff00ff"/>
<polygon points="493.6,540.31 500.64,545.42 497.95,553.69 489.25,553.69 486.56,545.42" fill="#ff00ff"/>
<polygon points="517.9,538.31 524.94,543.42 522.25,551.69 513.55,551.69 510.86,543.42" fill="#ff00ff"/>
<polygon points="542.2,536.31 549.24,541.42 546.55,549.69 537.85,549.69 535.16,541.42" fill="#ff00ff"/>
<polygon points="566.5,534.91 573.54,540.02 570.85,548.29 562.15,548.29 559.46,540.02" fill="#ff00ff"/>
<polygon points="590.8,533.41 597.84,538.52 595.15,546.79 586.45,546.79 583.76,538.52" fill="#ff00ff"/>
<polygon points="615.1,532.11 622.14,537.22 619.45,545.49 610.75,545.49 608.06,537.22" fill="#ff00ff"/>
<polygon points="639.4,530.91 646.44,536.02 643.75,544.29 635.05,544.29 632.36,536.02" fill="#ff00ff"/>
<polygon points="663.7,529.31 670.74,534.42 668.05,542.69 659.35,542.69 656.66,534.42" fill="#ff00ff"/>
<polygon points="688,528.41 695.04,533.52 692.35,541.79 683.65,541.79 680.96,533.52" fill="#ff00ff"/>
</g>
<rect x="104.8" y="14.5" width="583.7" height="559.9" fill="none" stroke="#000" stroke-width="2.6"/>
<line x1="104.8" y1="574.4" x2="104.8" y2="586.7" stroke="#000" stroke-width="2.6"/>
<line x1="104.8" y1="14.5" x2="104.8" y2="26.5" stroke="#000" stroke-width="2.6"/>
<line x1="141.28" y1="574.4" x2="141.28" y2="580.9" stroke="#000" stroke-width="2.6"/>
<line x1="141.28" y1="14.5" x2="141.28" y2="21.5" stroke="#000" stroke-width="2.6"/>
<line x1="177.76" y1="574.4" x2="177.76" y2="580.9" stroke="#000" stroke-width="2.6"/>
<line x1="177.76" y1="14.5" x2="177.76" y2="21.5" stroke="#000" stroke-width="2.6"/>
<line x1="214.24" y1="574.4" x2="214.24" y2="580.9" stroke="#000" stroke-width="2.6"/>
<line x1="214.24" y1="14.5" x2="214.24" y2="21.5" stroke="#000" stroke-width="2.6"/>
<line x1="250.73" y1="574.4" x2="250.73" y2="586.7" stroke="#000" stroke-width="2.6"/>
<line x1="250.73" y1="14.5" x2="250.73" y2="26.5" stroke="#000" stroke-width="2.6"/>
<line x1="287.21" y1="574.4" x2="287.21" y2="580.9" stroke="#000" stroke-width="2.6"/>
<line x1="287.21" y1="14.5" x2="287.21" y2="21.5" stroke="#000" stroke-width="2.6"/>
<line x1="323.69" y1="574.4" x2="323.69" y2="580.9" stroke="#000" stroke-width="2.6"/>
<line x1="323.69" y1="14.5" x2="323.69" y2="21.5" stroke="#000" stroke-width="2.6"/>
<line x1="360.17" y1="574.4" x2="360.17" y2="580.9" stroke="#000" stroke-width="2.6"/>
<line x1="360.17" y1="14.5" x2="360.17" y2="21.5" stroke="#000" stroke-width="2.6"/>
<line x1="396.65" y1="574.4" x2="396.65" y2="586.7" stroke="#000" stroke-width="2.6"/>
<line x1="396.65" y1="14.5" x2="396.65" y2="26.5" stroke="#000" stroke-width="2.6"/>
<line x1="433.13" y1="574.4" x2="433.13" y2="580.9" stroke="#000" stroke-width="2.6"/>
<line x1="433.13" y1="14.5" x2="433.13" y2="21.5" stroke="#000" stroke-width="2.6"/>
<line x1="469.61" y1="574.4" x2="469.61" y2="580.9" stroke="#000" stroke-width="2.6"/>
<line x1="469.61" y1="14.5" x2="469.61" y2="21.5" stroke="#000" stroke-width="2.6"/>
<line x1="506.09" y1="574.4" x2="506.09" y2="580.9" stroke="#000" stroke-width="2.6"/>
<line x1="506.09" y1="14.5" x2="506.09" y2="21.5" stroke="#000" stroke-width="2.6"/>
<line x1="542.58" y1="574.4" x2="542.58" y2="586.7" stroke="#000" stroke-width="2.6"/>
<line x1="542.58" y1="14.5" x2="542.58" y2="26.5" stroke="#000" stroke-width="2.6"/>
<line x1="579.06" y1="574.4" x2="579.06" y2="580.9" stroke="#000" stroke-width="2.6"/>
<line x1="579.06" y1="14.5" x2="579.06" y2="21.5" stroke="#000" stroke-width="2.6"/>
<line x1="615.54" y1="574.4" x2="615.54" y2="580.9" stroke="#000" stroke-width="2.6"/>
<line x1="615.54" y1="14.5" x2="615.54" y2="21.5" stroke="#000" stroke-width="2.6"/>
<line x1="652.02" y1="574.4" x2="652.02" y2="580.9" stroke="#000" stroke-width="2.6"/>
<line x1="652.02" y1="14.5" x2="652.02" y2="21.5" stroke="#000" stroke-width="2.6"/>
<line x1="688.5" y1="574.4" x2="688.5" y2="586.7" stroke="#000" stroke-width="2.6"/>
<line x1="688.5" y1="14.5" x2="688.5" y2="26.5" stroke="#000" stroke-width="2.6"/>
<line x1="104.8" y1="574.4" x2="92.3" y2="574.4" stroke="#000" stroke-width="2.6"/>
<line x1="688.5" y1="574.4" x2="701" y2="574.4" stroke="#000" stroke-width="2.6"/>
<line x1="104.8" y1="518.41" x2="98.3" y2="518.41" stroke="#000" stroke-width="2.6"/>
<line x1="688.5" y1="518.41" x2="695.5" y2="518.41" stroke="#000" stroke-width="2.6"/>
<line x1="104.8" y1="462.42" x2="92.3" y2="462.42" stroke="#000" stroke-width="2.6"/>
<line x1="688.5" y1="462.42" x2="701" y2="462.42" stroke="#000" stroke-width="2.6"/>
<line x1="104.8" y1="406.43" x2="98.3" y2="406.43" stroke="#000" stroke-width="2.6"/>
<line x1="688.5" y1="406.43" x2="695.5" y2="406.43" stroke="#000" stroke-width="2.6"/>
<line x1="104.8" y1="350.44" x2="92.3" y2="350.44" stroke="#000" stroke-width="2.6"/>
<line x1="688.5" y1="350.44" x2="701" y2="350.44" stroke="#000" stroke-width="2.6"/>
<line x1="104.8" y1="294.45" x2="98.3" y2="294.45" stroke="#000" stroke-width="2.6"/>
<line x1="688.5" y1="294.45" x2="695.5" y2="294.45" stroke="#000" stroke-width="2.6"/>
<line x1="104.8" y1="238.46" x2="92.3" y2="238.46" stroke="#000" stroke-width="2.6"/>
<line x1="688.5" y1="238.46" x2="701" y2="238.46" stroke="#000" stroke-width="2.6"/>
<line x1="104.8" y1="182.47" x2="98.3" y2="182.47" stroke="#000" stroke-width="2.6"/>
<line x1="688.5" y1="182.47" x2="695.5" y2="182.47" stroke="#000" stroke-width="2.6"/>
<line x1="104.8" y1="126.48" x2="92.3" y2="126.48" stroke="#000" stroke-width="2.6"/>
<line x1="688.5" y1="126.48" x2="701" y2="126.48" stroke="#000" stroke-width="2.6"/>
<line x1="104.8" y1="70.49" x2="98.3" y2="70.49" stroke="#000" stroke-width="2.6"/>
<line x1="688.5" y1="70.49" x2="695.5" y2="70.49" stroke="#000" stroke-width="2.6"/>
<line x1="104.8" y1="14.5" x2="92.3" y2="14.5" stroke="#000" stroke-width="2.6"/>
<line x1="688.5" y1="14.5" x2="701" y2="14.5" stroke="#000" stroke-width="2.6"/>
<line x1="141.4" y1="36.2" x2="156.3" y2="36.2" stroke="#000000" stroke-width="2"/>
<line x1="171" y1="36.2" x2="185.3" y2="36.2" stroke="#000000" stroke-width="2"/>
<rect x="159.4" y="32" width="8.4" height="8.4" fill="#fff" stroke="#000000" stroke-width="2.0"/>
<line x1="141.4" y1="59.8" x2="156.3" y2="59.8" stroke="#ff0000" stroke-width="2"/>
<line x1="171" y1="59.8" x2="185.3" y2="59.8" stroke="#ff0000" stroke-width="2"/>
<circle cx="163.6" cy="59.8" r="5.1" fill="#fff" stroke="#ff0000" stroke-width="2.0"/>
<line x1="141.4" y1="83.4" x2="156.3" y2="83.4" stroke="#0000ff" stroke-width="2"/>
<line x1="171" y1="83.4" x2="185.3" y2="83.4" stroke="#0000ff" stroke-width="2"/>
<polygon points="163.6,78.11 169.51,88.69 157.69,88.69" fill="#fff" stroke="#0000ff" stroke-width="2.1" stroke-linejoin="miter"/>
<line x1="141.4" y1="107" x2="156.3" y2="107" stroke="#808000" stroke-width="2"/>
<line x1="171" y1="107" x2="185.3" y2="107" stroke="#808000" stroke-width="2"/>
<polygon points="163.6,102.03 165.12,105.43 168.83,105.83 166.06,108.32 166.83,111.97 163.6,110.11 160.37,111.97 161.14,108.32 158.37,105.83 162.08,105.43" fill="#fff" stroke="#808000" stroke-width="2.0" stroke-linejoin="miter"/>
<line x1="141.4" y1="130.6" x2="156.3" y2="130.6" stroke="#ff40ff" stroke-width="1.3"/>
<line x1="171" y1="130.6" x2="185.3" y2="130.6" stroke="#ff40ff" stroke-width="1.3"/>
<polygon points="163.6,125.08 169.4,129.3 167.19,136.12 160.01,136.12 157.8,129.3" fill="#fff" stroke="#ff00ff" stroke-width="2.0" stroke-linejoin="miter"/>
<rect x="98.8" y="682.3" width="593.0" height="517.5" fill="none" stroke="#000" stroke-width="2.4"/>
<line x1="98.8" y1="1199.8" x2="98.8" y2="1187.8" stroke="#000" stroke-width="2.1"/>
<line x1="98.8" y1="682.3" x2="98.8" y2="694.3" stroke="#000" stroke-width="2.1"/>
<line x1="135.86" y1="1199.8" x2="135.86" y2="1193.3" stroke="#000" stroke-width="2.1"/>
<line x1="135.86" y1="682.3" x2="135.86" y2="688.8" stroke="#000" stroke-width="2.1"/>
<line x1="172.93" y1="1199.8" x2="172.93" y2="1193.3" stroke="#000" stroke-width="2.1"/>
<line x1="172.93" y1="682.3" x2="172.93" y2="688.8" stroke="#000" stroke-width="2.1"/>
<line x1="209.99" y1="1199.8" x2="209.99" y2="1193.3" stroke="#000" stroke-width="2.1"/>
<line x1="209.99" y1="682.3" x2="209.99" y2="688.8" stroke="#000" stroke-width="2.1"/>
<line x1="247.05" y1="1199.8" x2="247.05" y2="1187.8" stroke="#000" stroke-width="2.1"/>
<line x1="247.05" y1="682.3" x2="247.05" y2="694.3" stroke="#000" stroke-width="2.1"/>
<line x1="284.11" y1="1199.8" x2="284.11" y2="1193.3" stroke="#000" stroke-width="2.1"/>
<line x1="284.11" y1="682.3" x2="284.11" y2="688.8" stroke="#000" stroke-width="2.1"/>
<line x1="321.18" y1="1199.8" x2="321.18" y2="1193.3" stroke="#000" stroke-width="2.1"/>
<line x1="321.18" y1="682.3" x2="321.18" y2="688.8" stroke="#000" stroke-width="2.1"/>
<line x1="358.24" y1="1199.8" x2="358.24" y2="1193.3" stroke="#000" stroke-width="2.1"/>
<line x1="358.24" y1="682.3" x2="358.24" y2="688.8" stroke="#000" stroke-width="2.1"/>
<line x1="395.3" y1="1199.8" x2="395.3" y2="1187.8" stroke="#000" stroke-width="2.1"/>
<line x1="395.3" y1="682.3" x2="395.3" y2="694.3" stroke="#000" stroke-width="2.1"/>
<line x1="432.36" y1="1199.8" x2="432.36" y2="1193.3" stroke="#000" stroke-width="2.1"/>
<line x1="432.36" y1="682.3" x2="432.36" y2="688.8" stroke="#000" stroke-width="2.1"/>
<line x1="469.43" y1="1199.8" x2="469.43" y2="1193.3" stroke="#000" stroke-width="2.1"/>
<line x1="469.43" y1="682.3" x2="469.43" y2="688.8" stroke="#000" stroke-width="2.1"/>
<line x1="506.49" y1="1199.8" x2="506.49" y2="1193.3" stroke="#000" stroke-width="2.1"/>
<line x1="506.49" y1="682.3" x2="506.49" y2="688.8" stroke="#000" stroke-width="2.1"/>
<line x1="543.55" y1="1199.8" x2="543.55" y2="1187.8" stroke="#000" stroke-width="2.1"/>
<line x1="543.55" y1="682.3" x2="543.55" y2="694.3" stroke="#000" stroke-width="2.1"/>
<line x1="580.61" y1="1199.8" x2="580.61" y2="1193.3" stroke="#000" stroke-width="2.1"/>
<line x1="580.61" y1="682.3" x2="580.61" y2="688.8" stroke="#000" stroke-width="2.1"/>
<line x1="617.67" y1="1199.8" x2="617.67" y2="1193.3" stroke="#000" stroke-width="2.1"/>
<line x1="617.67" y1="682.3" x2="617.67" y2="688.8" stroke="#000" stroke-width="2.1"/>
<line x1="654.74" y1="1199.8" x2="654.74" y2="1193.3" stroke="#000" stroke-width="2.1"/>
<line x1="654.74" y1="682.3" x2="654.74" y2="688.8" stroke="#000" stroke-width="2.1"/>
<line x1="691.8" y1="1199.8" x2="691.8" y2="1187.8" stroke="#000" stroke-width="2.1"/>
<line x1="691.8" y1="682.3" x2="691.8" y2="694.3" stroke="#000" stroke-width="2.1"/>
<line x1="98.8" y1="1199.8" x2="110.8" y2="1199.8" stroke="#000" stroke-width="2.1"/>
<line x1="691.8" y1="1199.8" x2="679.8" y2="1199.8" stroke="#000" stroke-width="2.1"/>
<line x1="98.8" y1="1082.02" x2="105.3" y2="1082.02" stroke="#000" stroke-width="2.1"/>
<line x1="691.8" y1="1082.02" x2="685.3" y2="1082.02" stroke="#000" stroke-width="2.1"/>
<line x1="98.8" y1="964.25" x2="110.8" y2="964.25" stroke="#000" stroke-width="2.1"/>
<line x1="691.8" y1="964.25" x2="679.8" y2="964.25" stroke="#000" stroke-width="2.1"/>
<line x1="98.8" y1="846.47" x2="105.3" y2="846.47" stroke="#000" stroke-width="2.1"/>
<line x1="691.8" y1="846.47" x2="685.3" y2="846.47" stroke="#000" stroke-width="2.1"/>
<line x1="98.8" y1="728.7" x2="110.8" y2="728.7" stroke="#000" stroke-width="2.1"/>
<line x1="691.8" y1="728.7" x2="679.8" y2="728.7" stroke="#000" stroke-width="2.1"/>
<g clip-path="url(#cb)">
<rect x="94.75" y="798.35" width="8.1" height="8.1" fill="#0000ff"/>
<rect x="107.1" y="756.15" width="8.1" height="8.1" fill="#0000ff"/>
<rect x="119.46" y="724.65" width="8.1" height="8.1" fill="#0000ff"/>
<rect x="131.81" y="709.95" width="8.1" height="8.1" fill="#0000ff"/>
<rect x="144.17" y="710.75" width="8.1" height="8.1" fill="#0000ff"/>
<rect x="156.52" y="705.85" width="8.1" height="8.1" fill="#0000ff"/>
<rect x="168.87" y="714.05" width="8.1" height="8.1" fill="#0000ff"/>
<rect x="181.23" y="722.15" width="8.1" height="8.1" fill="#0000ff"/>
<rect x="193.58" y="709.95" width="8.1" height="8.1" fill="#0000ff"/>
<rect x="205.94" y="708.35" width="8.1" height="8.1" fill="#0000ff"/>
<rect x="218.29" y="705.25" width="8.1" height="8.1" fill="#0000ff"/>
<rect x="230.64" y="718.15" width="8.1" height="8.1" fill="#0000ff"/>
<rect x="243" y="710.45" width="8.1" height="8.1" fill="#0000ff"/>
<rect x="255.35" y="712.15" width="8.1" height="8.1" fill="#0000ff"/>
<rect x="267.71" y="708.55" width="8.1" height="8.1" fill="#0000ff"/>
<rect x="280.06" y="712.55" width="8.1" height="8.1" fill="#0000ff"/>
<rect x="292.41" y="717.65" width="8.1" height="8.1" fill="#0000ff"/>
<rect x="304.77" y="721.15" width="8.1" height="8.1" fill="#0000ff"/>
<rect x="317.12" y="719.15" width="8.1" height="8.1" fill="#0000ff"/>
<rect x="329.48" y="709.55" width="8.1" height="8.1" fill="#0000ff"/>
<rect x="341.83" y="711.95" width="8.1" height="8.1" fill="#0000ff"/>
<rect x="354.18" y="718.05" width="8.1" height="8.1" fill="#0000ff"/>
<rect x="366.54" y="724.35" width="8.1" height="8.1" fill="#0000ff"/>
<rect x="378.89" y="722.35" width="8.1" height="8.1" fill="#0000ff"/>
<rect x="391.25" y="716.65" width="8.1" height="8.1" fill="#0000ff"/>
<rect x="403.6" y="714.25" width="8.1" height="8.1" fill="#0000ff"/>
<rect x="415.95" y="716.25" width="8.1" height="8.1" fill="#0000ff"/>
<rect x="428.31" y="719.75" width="8.1" height="8.1" fill="#0000ff"/>
<rect x="440.66" y="729.85" width="8.1" height="8.1" fill="#0000ff"/>
<rect x="453.02" y="722.75" width="8.1" height="8.1" fill="#0000ff"/>
<rect x="465.37" y="720.75" width="8.1" height="8.1" fill="#0000ff"/>
<rect x="477.72" y="724.35" width="8.1" height="8.1" fill="#0000ff"/>
<rect x="490.08" y="727.25" width="8.1" height="8.1" fill="#0000ff"/>
<rect x="502.43" y="737.65" width="8.1" height="8.1" fill="#0000ff"/>
<rect x="514.79" y="735.35" width="8.1" height="8.1" fill="#0000ff"/>
<rect x="527.14" y="732.95" width="8.1" height="8.1" fill="#0000ff"/>
<rect x="539.49" y="732.95" width="8.1" height="8.1" fill="#0000ff"/>
<rect x="551.85" y="743.25" width="8.1" height="8.1" fill="#0000ff"/>
<rect x="564.2" y="747.55" width="8.1" height="8.1" fill="#0000ff"/>
<rect x="576.56" y="752.95" width="8.1" height="8.1" fill="#0000ff"/>
<rect x="588.91" y="745.35" width="8.1" height="8.1" fill="#0000ff"/>
<rect x="601.26" y="744.55" width="8.1" height="8.1" fill="#0000ff"/>
<rect x="613.62" y="745.35" width="8.1" height="8.1" fill="#0000ff"/>
<rect x="625.97" y="747.55" width="8.1" height="8.1" fill="#0000ff"/>
<rect x="638.33" y="746.05" width="8.1" height="8.1" fill="#0000ff"/>
<rect x="650.68" y="750.35" width="8.1" height="8.1" fill="#0000ff"/>
<rect x="663.03" y="744.95" width="8.1" height="8.1" fill="#0000ff"/>
<rect x="675.39" y="742.15" width="8.1" height="8.1" fill="#0000ff"/>
<rect x="687.74" y="741.55" width="8.1" height="8.1" fill="#0000ff"/>
</g>
<g style='font-family:"Liberation Sans",sans-serif;font-weight:bold;'><text x="47.31" y="581.9" font-size="27" fill="#000">0.0</text>
<text x="47.31" y="469.92" font-size="27" fill="#000">0.2</text>
<text x="47.31" y="357.94" font-size="27" fill="#000">0.4</text>
<text x="47.31" y="245.96" font-size="27" fill="#000">0.6</text>
<text x="47.31" y="133.98" font-size="27" fill="#000">0.8</text>
<path d="M0.405 0L0.405 0.716L0.300 0.716C0.280 0.660 0.230 0.610 0.165 0.570C0.120 0.542 0.080 0.520 0.050 0.505L0.050 0.395C0.115 0.415 0.195 0.455 0.262 0.510L0.262 0Z" transform="translate(47.31,22) scale(27,-27)" fill="#000"/><text x="62.33" y="22" font-size="27" fill="#000">.0</text>
<text x="707.43" y="581.9" font-size="27" fill="#000">0</text>
<text x="707.56" y="469.92" font-size="27" fill="#000">2</text>
<text x="708.09" y="357.94" font-size="27" fill="#000">4</text>
<text x="707.51" y="245.96" font-size="27" fill="#000">6</text>
<text x="707.64" y="133.98" font-size="27" fill="#000">8</text>
<path d="M0.405 0L0.405 0.716L0.300 0.716C0.280 0.660 0.230 0.610 0.165 0.570C0.120 0.542 0.080 0.520 0.050 0.505L0.050 0.395C0.115 0.415 0.195 0.455 0.262 0.510L0.262 0Z" transform="translate(706.8,22) scale(27,-27)" fill="#000"/><text x="721.82" y="22" font-size="27" fill="#000">0</text>
<text x="96.99" y="615" font-size="27" fill="#000">0</text>
<path d="M0.405 0L0.405 0.716L0.300 0.716C0.280 0.660 0.230 0.610 0.165 0.570C0.120 0.542 0.080 0.520 0.050 0.505L0.050 0.395C0.115 0.415 0.195 0.455 0.262 0.510L0.262 0Z" transform="translate(242.92,615) scale(27,-27)" fill="#000"/>
<text x="388.84" y="615" font-size="27" fill="#000">2</text>
<text x="534.77" y="615" font-size="27" fill="#000">3</text>
<text x="680.69" y="615" font-size="27" fill="#000">4</text>
<text x="366.18" y="657.5" font-size="32.6" fill="#000" textLength="60.53" lengthAdjust="spacingAndGlyphs" >t / h</text>
<text x="450.86" y="74.9" font-size="52" fill="#000" textLength="27.33" lengthAdjust="spacingAndGlyphs" >a</text>
<text transform="translate(26.7,0) rotate(-90)" x="-381.41" y="0" font-size="35.8" fill="#000" textLength="10.42" lengthAdjust="spacingAndGlyphs">I</text>
<text transform="translate(39.5,0) rotate(-90)" x="-370.72" y="0" font-size="25" fill="#000" textLength="30.62" lengthAdjust="spacingAndGlyphs">ox</text>
<text transform="translate(26.9,0) rotate(-90)" x="-329.74" y="0" font-size="35.8" fill="#000" textLength="74.64" lengthAdjust="spacingAndGlyphs">/ mA</text>
<text transform="translate(768.7,0) rotate(-90)" x="-374.34" y="0" font-size="34.5" fill="#000" textLength="27.31" lengthAdjust="spacingAndGlyphs">Q</text>
<text transform="translate(782.9,0) rotate(-90)" x="-347.56" y="0" font-size="25" fill="#000" textLength="31.76" lengthAdjust="spacingAndGlyphs">ox</text>
<text transform="translate(768.7,0) rotate(-90)" x="-305.13" y="0" font-size="34.5" fill="#000" textLength="43.36" lengthAdjust="spacingAndGlyphs">/ C</text>
<text x="190.77" y="42.5" font-size="17.7" fill="#000000" textLength="131.77" lengthAdjust="spacingAndGlyphs" >bGOx_glucose</text>
<text x="190.77" y="66.1" font-size="17.7" fill="#ff0000" textLength="192.27" lengthAdjust="spacingAndGlyphs" >bGOx + PDH_glucose</text>
<text x="190.75" y="89.7" font-size="17.7" fill="#0000ff" textLength="120.18" lengthAdjust="spacingAndGlyphs" >PDH_glucose</text>
<text x="190.75" y="113.3" font-size="17.7" fill="#808000" textLength="136.09" lengthAdjust="spacingAndGlyphs" >PDH_galactose</text>
<text x="190.74" y="136.9" font-size="17.7" fill="#ff00ff" textLength="189" lengthAdjust="spacingAndGlyphs" >PDH_gluconolactone</text>
<text x="67.46" y="1209.2" font-size="31" fill="#000">0</text>
<path d="M0.405 0L0.405 0.716L0.300 0.716C0.280 0.660 0.230 0.610 0.165 0.570C0.120 0.542 0.080 0.520 0.050 0.505L0.050 0.395C0.115 0.415 0.195 0.455 0.262 0.510L0.262 0Z" transform="translate(67.46,973.65) scale(31,-31)" fill="#000"/>
<text x="67.46" y="738.1" font-size="31" fill="#000">2</text>
<text x="89.72" y="1237.2" font-size="30.5" fill="#000">0</text>
<path d="M0.405 0L0.405 0.716L0.300 0.716C0.280 0.660 0.230 0.610 0.165 0.570C0.120 0.542 0.080 0.520 0.050 0.505L0.050 0.395C0.115 0.415 0.195 0.455 0.262 0.510L0.262 0Z" transform="translate(237.97,1237.2) scale(30.5,-30.5)" fill="#000"/>
<text x="386.22" y="1237.2" font-size="30.5" fill="#000">2</text>
<text x="534.47" y="1237.2" font-size="30.5" fill="#000">3</text>
<text x="682.72" y="1237.2" font-size="30.5" fill="#000">4</text>
<text x="365.19" y="1276.3" font-size="31.6" fill="#000" textLength="60.11" lengthAdjust="spacingAndGlyphs" >t / h</text>
<text x="156.97" y="813.5" font-size="52.9" fill="#000" textLength="34.55" lengthAdjust="spacingAndGlyphs" >b</text>
<polygon points="11.23,1111.71 10.70,1108.15 10.79,1105.04 13.90,1103.03 17.47,1101.47 21.47,1100.05 25.04,1098.80 28.15,1097.56 29.93,1096.13 29.27,1094.13 28.15,1092.79 29.93,1093.68 31.71,1095.46 33.05,1098.36 32.38,1100.58 29.93,1102.81 25.04,1105.04 21.03,1106.37 17.47,1107.71 14.35,1109.49 12.57,1111.71" fill="#000"/>
<path d="M12.35 1092.57 Q19.69 1099.69 30.60 1115.28" stroke="#000" stroke-width="1.5" fill="none"/>
<ellipse cx="12.35" cy="1092.57" rx="2.6" ry="2.4" fill="#000"/>
<ellipse cx="30.60" cy="1115.28" rx="2.7" ry="2.8" fill="#000"/>
<text transform="translate(29.9,0) rotate(-90)" x="-1080.29" y="0" font-size="29.1" fill="#000" textLength="15.37" lengthAdjust="spacingAndGlyphs">=</text>
<text transform="translate(31,0) rotate(-90)" x="-1051.02" y="0" font-size="33.2" fill="#000" textLength="28.83" lengthAdjust="spacingAndGlyphs">Q</text>
<text transform="translate(46.6,0) rotate(-90)" x="-1023.24" y="0" font-size="28.6" fill="#000" textLength="81.52" lengthAdjust="spacingAndGlyphs">ox,Glc</text>
<text transform="translate(31.8,0) rotate(-90)" x="-930.93" y="0" font-size="33.6" fill="#000" textLength="9.36" lengthAdjust="spacingAndGlyphs">/</text>
<text transform="translate(31,0) rotate(-90)" x="-911.33" y="0" font-size="33.2" fill="#000" textLength="25.19" lengthAdjust="spacingAndGlyphs">Q</text>
<text transform="translate(46.6,0) rotate(-90)" x="-884.16" y="0" font-size="28.6" fill="#000" textLength="83.09" lengthAdjust="spacingAndGlyphs">ox,Gal</text></g>
</svg>
</body></html>
